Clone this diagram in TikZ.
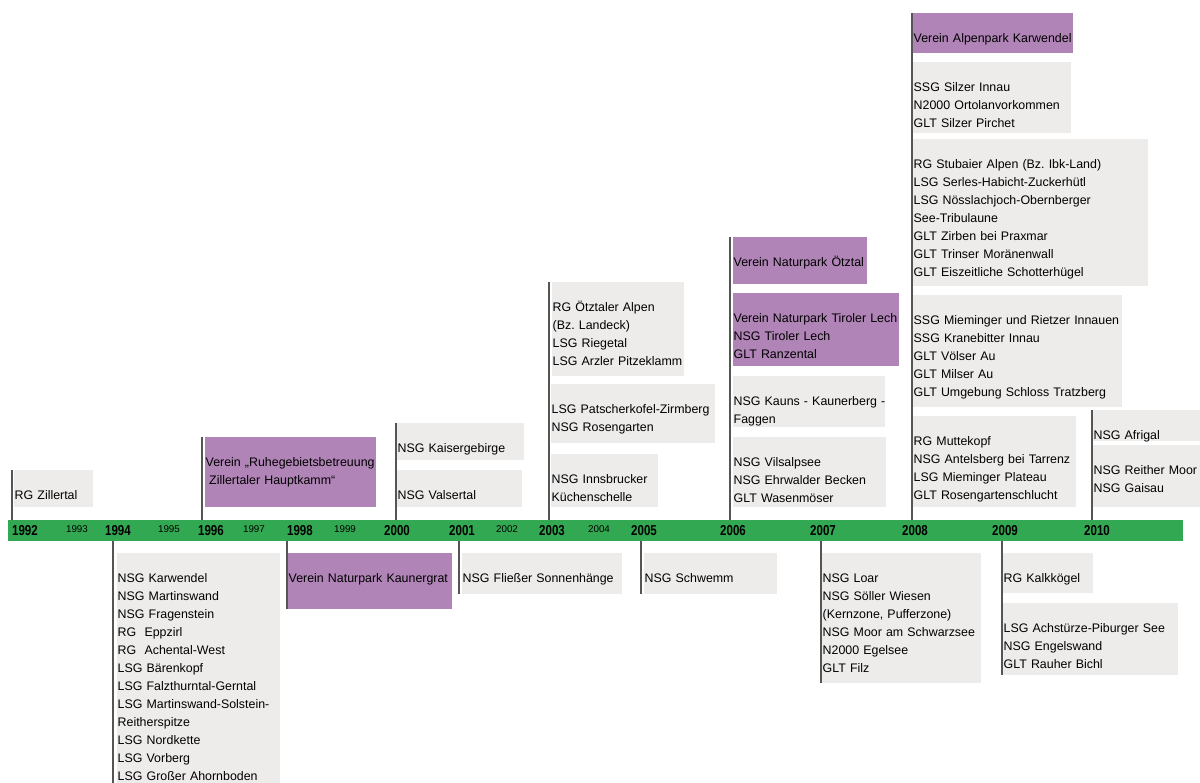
\documentclass[tikz,border=0pt]{standalone}
\usepackage{fontspec}
\setmainfont{Liberation Sans}
\newfontfamily\yearfont[FakeStretch=0.8]{Liberation Sans}
\usepackage{tikz}
\usetikzlibrary{positioning}
\definecolor{BarGreen}{HTML}{33A852}
\definecolor{Lilac}{HTML}{B084B6}
\definecolor{PaleGray}{HTML}{EDECEA}
\definecolor{TickGray}{HTML}{555555}
\tikzset{
  graybox/.style={fill=PaleGray,anchor=north west,align=left,inner xsep=0.5pt,inner ysep=0pt,
              text height=29pt,font=\fontsize{12.4}{18}\selectfont,
              execute at begin node={\frenchspacing\hyphenpenalty=10000\exhyphenpenalty=10000}},
  purplebox/.style={graybox,fill=Lilac},
  yearbar/.style={fill=BarGreen,anchor=north west,inner sep=0pt,minimum width=1175pt,minimum height=21pt},
  tick/.style={draw=TickGray,line width=1.2pt},
  bigyear/.style={inner sep=0pt,font=\yearfont\bfseries\fontsize{14.4}{15}\selectfont},
  smallyear/.style={inner sep=0pt,font=\fontsize{9.8}{10}\selectfont}
}

\begin{document}
\begin{tikzpicture}[x=1pt,y=1pt]
  \useasboundingbox (0,0) rectangle (1200,-783);
  \node[yearbar] (bar) at (8,-520) {};
  % above the bar
  \node[graybox,text width=78pt,text depth=8pt] (z92) at (14,-470) {RG Zillertal};
  \node[purplebox,text width=170pt,text depth=41pt] (v96) at (205,-437)
    {Verein „Ruhegebietsbetreuung\\\hspace*{3.5pt}Zillertaler Hauptkamm“};
  \node[graybox,text width=126pt,text depth=8pt] (k00) at (397,-423) {NSG Kaisergebirge};
  \node[graybox,text width=124pt,text depth=8pt] (v00) at (397,-470) {NSG Valsertal};
  \node[graybox,text width=131pt,text depth=65pt] (o03) at (552,-282)
    {RG Ötztaler Alpen\\(Bz. Landeck)\\LSG Riegetal\\LSG Arzler Pitzeklamm};
  \node[graybox,text width=163pt,text depth=30pt] (p03) at (551,-384)
    {LSG Patscherkofel-Zirmberg\\NSG Rosengarten};
  \node[graybox,text width=106pt,text depth=24pt] (i03) at (551,-454)
    {NSG Innsbrucker\\Küchenschelle};
  \node[purplebox,text width=133pt,text depth=18pt] (oe06) at (733,-237) {Verein Naturpark Ötztal};
  \node[purplebox,text width=165pt,text depth=44pt] (tl06) at (733,-293)
    {Verein Naturpark Tiroler Lech\\NSG Tiroler Lech\\GLT Ranzental};
  \node[graybox,text width=151pt,text depth=22pt] (ka06) at (733,-376)
    {\mbox{NSG Kauns - Kaunerberg -}\\Faggen};
  \node[graybox,text width=152pt,text depth=41pt] (vi06) at (733,-437)
    {NSG Vilsalpsee\\NSG Ehrwalder Becken\\GLT Wasenmöser};
  \node[purplebox,text width=159pt,text depth=11pt] (ak08) at (913,-13) {Verein Alpenpark Karwendel};
  \node[graybox,text width=157pt,text depth=42pt] (si08) at (913,-62)
    {SSG Silzer Innau\\N2000 Ortolanvorkommen\\GLT Silzer Pirchet};
  \node[graybox,text width=234pt,text depth=118pt] (st08) at (913,-139)
    {RG Stubaier Alpen (Bz. Ibk-Land)\\LSG Serles-Habicht-Zuckerhütl\\LSG Nösslachjoch-Obernberger\\See-Tribulaune\\GLT Zirben bei Praxmar\\GLT Trinser Moränenwall\\GLT Eiszeitliche Schotterhügel};
  \node[graybox,text width=208pt,text depth=83pt] (mi08) at (913,-295)
    {SSG Mieminger und Rietzer Innauen\\SSG Kranebitter Innau\\GLT Völser Au\\GLT Milser Au\\GLT Umgebung Schloss Tratzberg};
  \node[graybox,text width=162pt,text depth=62pt] (mu08) at (913,-416)
    {RG Muttekopf\\NSG Antelsberg bei Tarrenz\\LSG Mieminger Plateau\\GLT Rosengartenschlucht};
  \node[graybox,text width=111pt,text depth=2pt] (af10) at (1093,-410) {NSG Afrigal};
  \node[graybox,text width=111pt,text depth=33pt] (re10) at (1093,-445)
    {NSG Reither Moor\\NSG Gaisau};
  % below the bar
  \node[graybox,text width=162pt,text depth=211pt] (ka94) at (117,-553)
    {NSG Karwendel\\NSG Martinswand\\NSG Fragenstein\\RG\ \ Eppzirl\\RG\ \ Achental-West\\LSG Bärenkopf\\LSG Falzthurntal-Gerntal\\LSG Martinswand-Solstein-\\Reitherspitze\\LSG Nordkette\\LSG Vorberg\\LSG Großer Ahornboden};
  \node[purplebox,text width=163pt,text depth=27pt] (kg98) at (288,-553) {Verein Naturpark Kaunergrat};
  \node[graybox,text width=159pt,text depth=12pt] (fl01) at (462,-553) {NSG Fließer Sonnenhänge};
  \node[graybox,text width=132pt,text depth=12pt] (sc05) at (644,-553) {NSG Schwemm};
  \node[graybox,text width=158pt,text depth=101pt] (lo07) at (822,-553)
    {NSG Loar\\NSG Söller Wiesen\\(Kernzone, Pufferzone)\\NSG Moor am Schwarzsee\\N2000 Egelsee\\GLT Filz};
  \node[graybox,text width=89pt,text depth=11pt] (kk09) at (1003,-553) {RG Kalkkögel};
  \node[graybox,text width=174pt,text depth=43pt] (ac09) at (1003,-603)
    {LSG Achstürze-Piburger See\\NSG Engelswand\\GLT Rauher Bichl};
  % year ticks
  \draw[tick] ([xshift=-2pt]z92.north west) -- ([xshift=-2pt]z92.north west |- bar.north);
  \draw[tick] ([xshift=-3pt]v96.north west) -- ([xshift=-3pt]v96.north west |- bar.north);
  \draw[tick] ([xshift=-1pt]k00.north west) -- ([xshift=-1pt]k00.north west |- bar.north);
  \draw[tick] ([xshift=-3pt]o03.north west) -- ([xshift=-3pt]o03.north west |- bar.north);
  \draw[tick] ([xshift=-3pt]oe06.north west) -- ([xshift=-3pt]oe06.north west |- bar.north);
  \draw[tick] ([xshift=-1pt]ak08.north west) -- ([xshift=-1pt]ak08.north west |- bar.north);
  \draw[tick] ([xshift=-1pt]af10.north west) -- ([xshift=-1pt]af10.north west |- bar.north);
  \draw[tick] ([xshift=-4pt]ka94.north west |- bar.south) -- ([xshift=-4pt]ka94.south west);
  \draw[tick] ([xshift=-1pt]kg98.north west |- bar.south) -- ([xshift=-1pt]kg98.south west);
  \draw[tick] ([xshift=-3pt]fl01.north west |- bar.south) -- ([xshift=-3pt]fl01.south west);
  \draw[tick] ([xshift=-3pt]sc05.north west |- bar.south) -- ([xshift=-3pt]sc05.south west);
  \draw[tick] ([xshift=-1pt]lo07.north west |- bar.south) -- ([xshift=-1pt]lo07.south west);
  \draw[tick] ([xshift=-1pt]ac09.north west |- bar.south) -- ([xshift=-1pt]ac09.south west);
  % years on the bar
  \foreach \yr/\x in {1992/25,1994/118,1996/211,1998/300,2000/397,2001/462,2003/552,
                      2005/644,2006/733,2007/823,2008/915,2009/1005,2010/1097}
    \node[bigyear] (y\yr) at (\x,-531) {\yr};
  \foreach \yr/\x in {1993/77,1995/169,1997/254,1999/345,2002/507,2004/599}
    \node[smallyear] (y\yr) at (\x,-529.5) {\yr};
\end{tikzpicture}
\end{document}
